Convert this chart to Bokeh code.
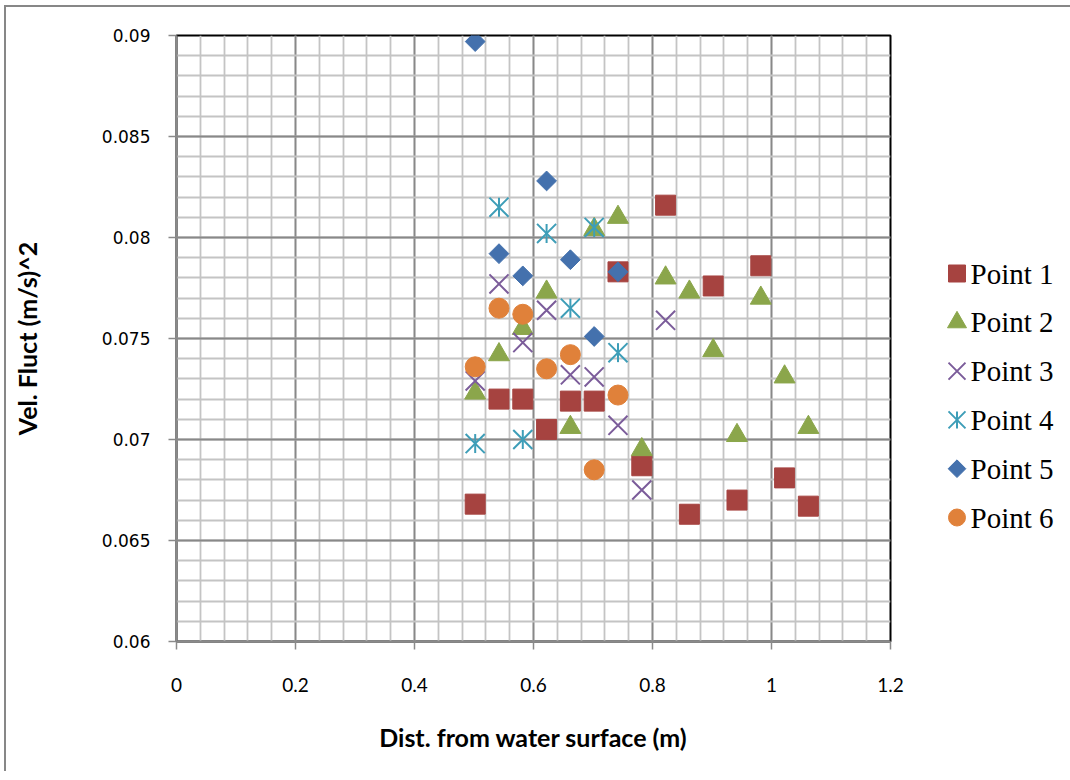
import numpy as np
from bokeh.plotting import figure
from bokeh.models import Range1d, FixedTicker
from bokeh.layouts import row
from bokeh.core.properties import value
from bokeh.embed import file_html
from bokeh.resources import INLINE

# ---------------- data ----------------
dist = [0.502, 0.542, 0.582, 0.622, 0.662, 0.702, 0.742, 0.782,
        0.822, 0.862, 0.902, 0.942, 0.982, 1.022, 1.062]

point1 = [0.0668, 0.0720, 0.0720, 0.0705, 0.0719, 0.0719, 0.0783, 0.0687,
          0.0816, 0.0663, 0.0776, 0.0670, 0.0786, 0.0681, 0.0667]
point2 = [0.0723, 0.0742, 0.0755, 0.0773, 0.0706, 0.0804, 0.0810, 0.0695,
          0.0780, 0.0773, 0.0744, 0.0702, 0.0770, 0.0731, 0.0706]
point3 = [0.0729, 0.0777, 0.0748, 0.0764, 0.0732, 0.0731, 0.0707, 0.0675, 0.0759]
point4 = [0.0698, 0.0815, 0.0700, 0.0802, 0.0765, 0.0805, 0.0743]
point5 = [0.0897, 0.0792, 0.0781, 0.0828, 0.0789, 0.0751, 0.0783]
point6 = [0.0736, 0.0765, 0.0762, 0.0735, 0.0742, 0.0685, 0.0722]

series_names = ["Point 1", "Point 2", "Point 3", "Point 4", "Point 5", "Point 6"]

x_ticks = [0, 0.2, 0.4, 0.6, 0.8, 1.0, 1.2]
x_tick_labels = ["0", "0.2", "0.4", "0.6", "0.8", "1", "1.2"]
y_ticks = [0.06, 0.065, 0.07, 0.075, 0.08, 0.085, 0.09]
y_tick_labels = ["0.06", "0.065", "0.07", "0.075", "0.08", "0.085", "0.09"]

x_title = "Dist. from water surface (m)"
y_title = "Vel. Fluct (m/s)^2"

# ---------------- styles ----------------
C1 = "#A64340"
C2 = "#8BA64B"
C3 = "#7B5C9A"
C4 = "#3E9EB8"
C5 = "#4471AD"
C6 = "#E0813A"
AX = "#8A8A8A"
MAJ = "#888888"
MIN = "#C4C4C4"

x_minor = [float(v) for v in np.round(np.arange(0, 1.2001, 0.04), 4)]
y_minor = [float(v) for v in np.round(np.arange(0.06, 0.09001, 0.001), 4)]

TOP, BOTTOM, FH = 28, 130, 606

p = figure(frame_width=714, frame_height=FH,
           min_border_left=170, min_border_right=40,
           min_border_top=TOP, min_border_bottom=BOTTOM,
           x_range=Range1d(0, 1.2), y_range=Range1d(0.06, 0.09),
           output_backend="svg", toolbar_location=None,
           background_fill_color="white", border_fill_color="white")

p.outline_line_color = "black"
p.outline_line_width = 2

xt = FixedTicker(ticks=x_ticks, minor_ticks=x_minor)
yt = FixedTicker(ticks=y_ticks, minor_ticks=y_minor)
p.xaxis.ticker = xt
p.yaxis.ticker = yt
p.xgrid.ticker = xt
p.ygrid.ticker = yt
p.xaxis.major_label_overrides = dict(zip(x_ticks, x_tick_labels))
p.yaxis.major_label_overrides = dict(zip(y_ticks, y_tick_labels))

for g in (p.xgrid[0], p.ygrid[0]):
    g.grid_line_color = MAJ
    g.grid_line_width = 1.8
    g.minor_grid_line_color = MIN
    g.minor_grid_line_width = 1.8

for ax in (p.xaxis[0], p.yaxis[0]):
    ax.axis_line_color = AX
    ax.axis_line_width = 2
    ax.major_tick_line_color = AX
    ax.major_tick_line_width = 1.5
    ax.major_tick_out = 8
    ax.major_tick_in = 0
    ax.minor_tick_line_color = None
    ax.major_label_text_color = "black"
    ax.axis_label_text_color = "black"
    ax.axis_label_text_font = "Lato"
    ax.axis_label_text_font_style = "bold"
    ax.axis_label_text_font_size = "25px"

p.xaxis.axis_label = x_title
p.yaxis.axis_label = y_title
p.xaxis.major_label_text_font = "Lato"
p.xaxis.major_label_text_font_size = "19px"
p.xaxis.major_label_standoff = 28
p.xaxis.axis_label_standoff = 27
p.yaxis.major_label_text_font = "DejaVu Sans"
p.yaxis.major_label_text_font_size = "17px"
p.yaxis.major_label_standoff = 18
p.yaxis.axis_label_standoff = 57

n3 = len(point3)
n4 = len(point4)
n5 = len(point5)
n6 = len(point6)

p.scatter(dist, point1, marker="square", size=20, fill_color=C1, line_color=C1)
p.scatter(dist, point2, marker="triangle", size=21, fill_color=C2, line_color=C2)
p.scatter(dist[:n3], point3, marker="x", size=27, line_color=C3, line_width=2)
p.scatter(dist[:n4], point4, marker="x", size=27, line_color=C4, line_width=2)
p.scatter(dist[:n4], point4, marker="dash", angle=np.pi / 2, size=19, line_color=C4, line_width=2)
p.scatter(dist[:n5], point5, marker="square", angle=np.pi / 4, size=14, fill_color=C5, line_color=C5)
p.scatter(dist[:n6], point6, marker="circle", size=20, fill_color=C6, line_color=C6)

# ---------------- legend panel ----------------
LW, LH = 140, TOP + FH + BOTTOM
lg = figure(frame_width=LW, frame_height=FH,
            min_border_left=0, min_border_right=0,
            min_border_top=TOP, min_border_bottom=BOTTOM,
            x_range=Range1d(0, LW), y_range=Range1d(BOTTOM, BOTTOM + FH),
            x_axis_type=None, y_axis_type=None,
            output_backend="svg", toolbar_location=None,
            outline_line_color=None, background_fill_color="white",
            border_fill_color="white")
lg.grid.visible = False

row_y = [LH - 266 - 48.8 * i for i in range(len(series_names))]
mx = 26.5
lg.scatter([mx], [row_y[0]], marker="square", size=17, fill_color=C1, line_color=C1)
lg.scatter([mx], [row_y[1]], marker="triangle", size=19, fill_color=C2, line_color=C2)
lg.scatter([mx], [row_y[2]], marker="x", size=24, line_color=C3, line_width=2)
lg.scatter([mx], [row_y[3]], marker="x", size=24, line_color=C4, line_width=2)
lg.scatter([mx], [row_y[3]], marker="dash", angle=np.pi / 2, size=17, line_color=C4, line_width=2)
lg.scatter([mx], [row_y[4]], marker="square", angle=np.pi / 4, size=12.5, fill_color=C5, line_color=C5)
lg.scatter([mx], [row_y[5]], marker="circle", size=17, fill_color=C6, line_color=C6)
lg.text(x=[40] * len(series_names), y=row_y, text=series_names,
        text_font=value("Liberation Serif"), text_font_size="29px",
        text_baseline="middle", text_align="left", text_color="black")

layout = row(p, lg, styles={"border-left": "2px solid #878787",
                            "border-top": "2px solid #878787",
                            "margin-left": "4px", "margin-top": "5px"})

open("out.html", "w").write(file_html(layout, INLINE))
